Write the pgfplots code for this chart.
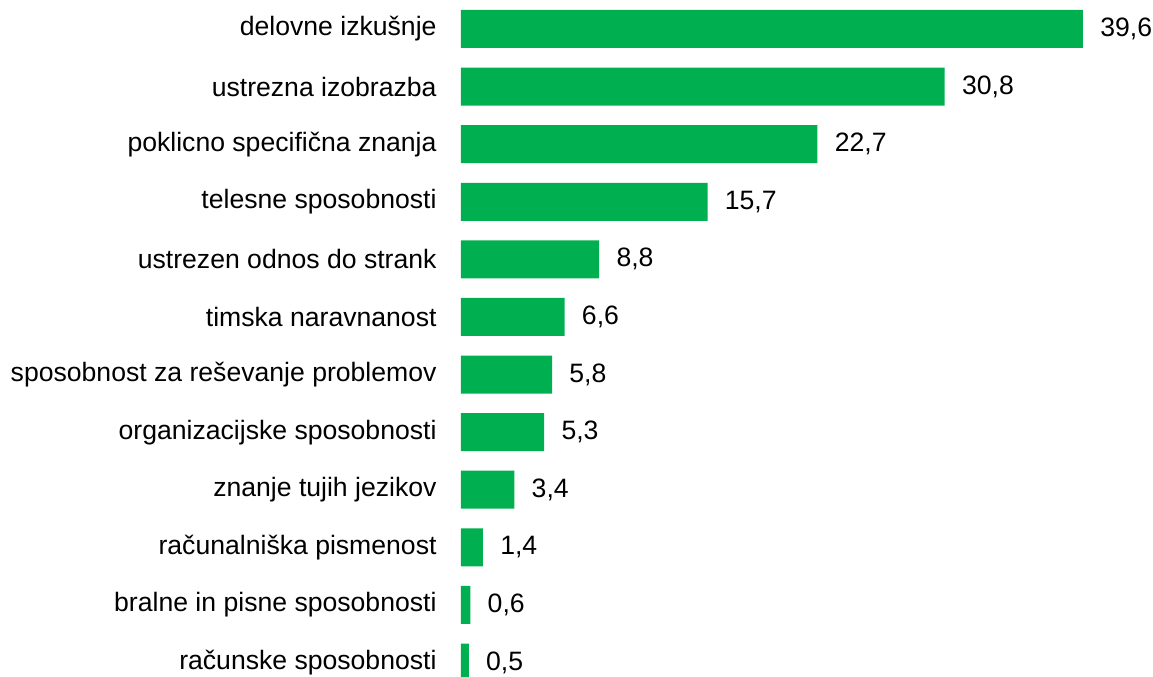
\documentclass[border=0pt]{standalone}
\usepackage{pgfplots}
\pgfplotsset{compat=1.18}
\usepackage{fontspec}
\setmainfont{Liberation Sans}
\definecolor{barGreen}{HTML}{00B050}

\begin{document}
\fontsize{13.3pt}{16pt}\selectfont
\begin{tikzpicture}
  \begin{axis}[
    name=ax,
    xbar,
    scale only axis,
    width=346pt,
    height=338.5pt,
    xmin=0, xmax=44.05,
    ymin=-0.503, ymax=11.25,
    y dir=reverse,
    axis line style={draw=none},
    xtick=\empty,
    ytick={0,...,11},
    yticklabels={delovne izkušnje,ustrezna izobrazba,poklicno specifična znanja,telesne sposobnosti,ustrezen odnos do strank,timska naravnanost,sposobnost za reševanje problemov,organizacijske sposobnosti,znanje tujih jezikov,računalniška pismenost,bralne in pisne sposobnosti,računske sposobnosti},
    major tick length=0pt,
    yticklabel style={anchor=east, inner sep=0pt, xshift=-12pt, font=\fontsize{13.3pt}{16pt}\selectfont},
    bar width=19pt,
    bar shift=0pt,
    nodes near coords,
    nodes near coords style={anchor=west, inner sep=0pt, xshift=8.5pt, font=\fontsize{13.3pt}{16pt}\selectfont, text=black},
    /pgf/number format/.cd, use comma, fixed, fixed zerofill, precision=1, assume math mode=true,
  ]
    \addplot[draw=none, fill=barGreen] coordinates {
      (39.6,0) (30.8,1) (22.7,2) (15.7,3) (8.8,4) (6.6,5)
      (5.8,6) (5.3,7) (3.4,8) (1.4,9) (0.6,10) (0.5,11)
    };
  \end{axis}
  \path ([xshift=-230.5pt]ax.south west) rectangle (ax.north east);
\end{tikzpicture}
\end{document}
